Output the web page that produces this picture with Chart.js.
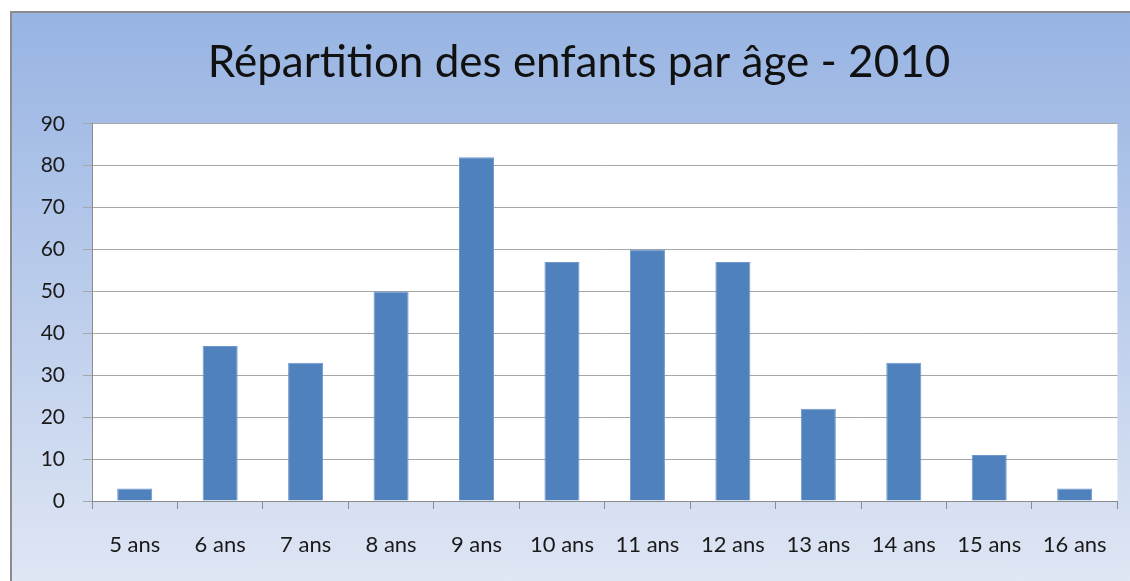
<!DOCTYPE html>
<html>
<head>
<meta charset="utf-8">
<script src="https://cdn.jsdelivr.net/npm/chart.js@4/dist/chart.umd.min.js"></script>
<style>
    html, body { margin: 0; padding: 0; background: #fff; }
    #frame {
        position: absolute;
        left: 10px;
        top: 11px;
        width: 1118px;
        height: 568px;
        border-left: 2px solid #8c8c8c;
        border-top: 2px solid #8c8c8c;
        background: linear-gradient(to bottom, #97b4e2 0%, #a9c0e7 25%, #dfe6f4 100%);
    }
    #frame canvas { display: block; }
</style>
</head>
<body>
<div id="frame"><canvas id="ageChart" width="1118" height="568"></canvas></div>
<script>
const ageLabels = ['5 ans', '6 ans', '7 ans', '8 ans', '9 ans', '10 ans', '11 ans', '12 ans', '13 ans', '14 ans', '15 ans', '16 ans'];
const childCounts = [3, 37, 33, 50, 82, 57, 60, 57, 22, 33, 11, 3];
const yTicks = [0, 10, 20, 30, 40, 50, 60, 70, 80, 90];

const chartTitle = 'Répartition des enfants par âge - 2010';

// white plot area behind the bars
const plotBackground = {
    id: 'plotBackground',
    beforeDraw(chart) {
        const { ctx, chartArea } = chart;
        ctx.save();
        ctx.fillStyle = '#ffffff';
        ctx.fillRect(chartArea.left, chartArea.top, chartArea.right - chartArea.left, chartArea.bottom - chartArea.top);
        ctx.restore();
    }
};

const ctx = document.getElementById('ageChart').getContext('2d');
new Chart(ctx, {
    type: 'bar',
    data: {
        labels: ageLabels,
        datasets: [{
            data: childCounts,
            backgroundColor: '#4f81bd',
            borderColor: '#6f97cb',
            borderWidth: 1,
            categoryPercentage: 1,
            barPercentage: 0.41
        }]
    },
    options: {
        responsive: false,
        animation: false,
        layout: {
            // left padding pushes the title centre right, like the original
            padding: { top: 12, right: 9, left: 25, bottom: 0 }
        },
        plugins: {
            legend: { display: false },
            tooltip: { enabled: false },
            title: {
                display: true,
                text: chartTitle,
                color: '#111',
                font: { family: 'Lato', size: 44, weight: 'normal', lineHeight: 1.2 },
                padding: { top: 11, bottom: 35 }
            }
        },
        scales: {
            x: {
                grid: {
                    offset: true,
                    drawOnChartArea: false,
                    drawTicks: true,
                    tickLength: 8,
                    color: '#8c8c8c'
                },
                border: { color: '#8c8c8c', width: 1 },
                ticks: {
                    color: '#1a1a1a',
                    padding: 23,
                    maxRotation: 0,
                    font: { family: 'Lato', size: 22 }
                },
                afterFit(scale) { scale.height = 80; }
            },
            y: {
                min: 0,
                max: 90,
                afterBuildTicks(scale) {
                    scale.ticks = yTicks.map(v => ({ value: v }));
                },
                grid: {
                    color: '#a6a6a6',
                    drawTicks: true,
                    tickLength: 9
                },
                border: { color: '#8c8c8c', width: 1 },
                ticks: {
                    color: '#1a1a1a',
                    padding: 18,
                    font: { family: 'Lato', size: 21 }
                },
                afterFit(scale) { scale.width = 55; }
            }
        }
    },
    plugins: [plotBackground]
});
</script>
</body>
</html>
